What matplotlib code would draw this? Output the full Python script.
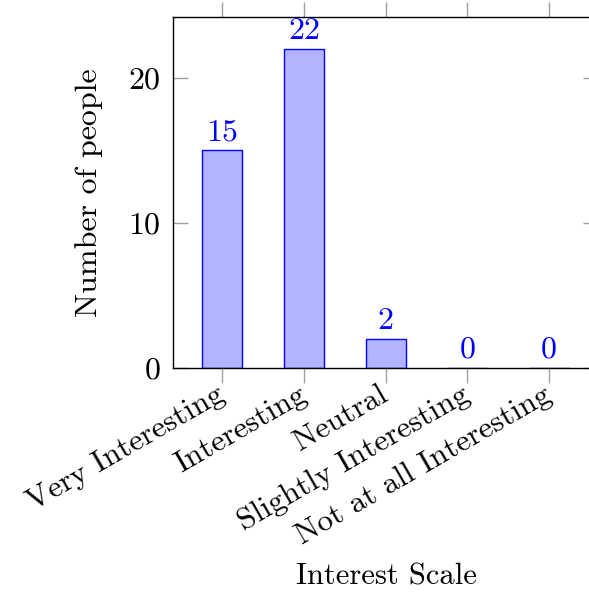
import matplotlib.pyplot as plt

plt.rcParams['font.family'] = 'cmr10'
plt.rcParams['mathtext.fontset'] = 'cm'
plt.rcParams['axes.formatter.use_mathtext'] = True

categories = ["Very Interesting", "Interesting", "Neutral",
              "Slightly Interesting", "Not at all Interesting"]
counts = [15, 22, 2, 0, 0]
yticks = [0, 10, 20]

W, H = 589, 595
fig = plt.figure(figsize=(W / 100, H / 100), dpi=100)
# axes box in pixels: left 173, top 17, bottom 368, right runs off the image
ax = fig.add_axes([173.3 / W, 1 - 367.7 / H, 424.8 / W, 350.4 / H])

x = list(range(len(categories)))
ax.bar(x, counts, width=0.49, color='#b3b3ff', edgecolor='blue', linewidth=1)

for xi, c in zip(x, counts):
    ax.annotate(str(c), (xi, c), xytext=(0, 3), textcoords='offset points',
                ha='center', va='bottom', color='blue', fontsize=23)

ax.set_xlim(-0.6, 4.6)
ax.set_ylim(0, 24.18)
ax.set_xticks(x)
ax.set_xticklabels(categories, rotation=30, ha='right', va='center',
                   rotation_mode='anchor', fontsize=22.5)
ax.set_yticks(yticks)
ax.tick_params(axis='y', labelsize=23, direction='in', left=True, right=True,
               length=11, color='#a0a0a0', width=1, pad=9)
ax.tick_params(axis='x', direction='out', top=True, bottom=True,
               length=11, color='#a0a0a0', width=1, pad=7)
for s in ax.spines.values():
    s.set_linewidth(1)

ax.set_ylabel("Number of people", fontsize=23)
ax.yaxis.set_label_coords((103 - 173.3) / 424.8, 0.5)
fig.text(386 / W, 1 - 577 / H, "Interest Scale", fontsize=22, ha='center', va='center')

fig.savefig("out.png", dpi=100)
